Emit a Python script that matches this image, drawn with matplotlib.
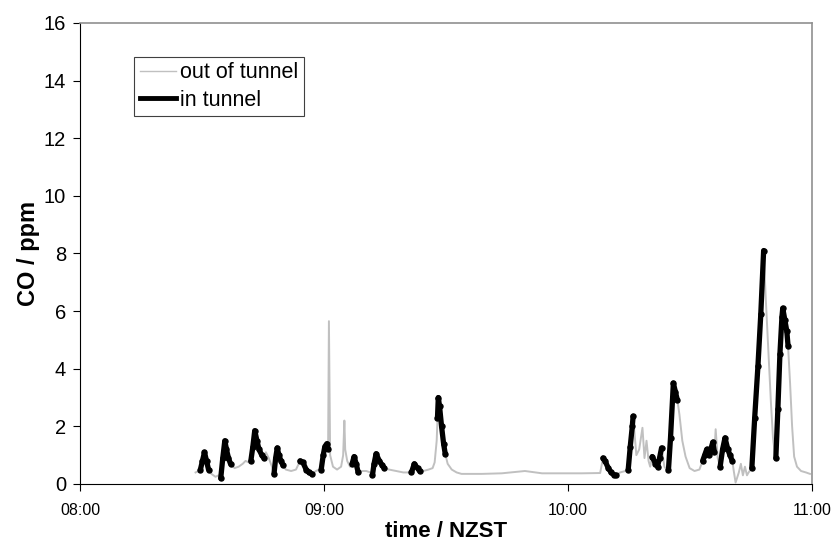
import numpy as np
import matplotlib.pyplot as plt

plt.rcParams['font.family'] = ['Liberation Sans', 'DejaVu Sans']

# CO trace, minutes after 08:00 (NZST) and ppm
minutes = [
    28.4, 29.1, 29.6, 30.1, 30.6, 31.1, 31.6, 32.3, 33.3, 34.1,
    34.6, 35.1, 35.6, 36.0, 36.5, 37.0, 38.0, 39.0, 40.0, 40.7, 41.5,
    42.0, 42.5, 42.96, 43.5, 44.0, 44.7, 45.2, 45.7, 46.4, 47.2,
    47.7, 48.1, 48.5, 48.9, 49.4, 49.9, 50.6, 51.9, 53.1,
    54.1, 54.8, 55.6, 56.3, 57.0, 58.0, 58.8,
    59.3, 59.8, 60.2, 60.7, 61.0, 61.2, 61.5, 62.2, 63.2, 64.2, 64.7, 65.0, 65.2, 65.7, 66.4,
    66.9, 67.4, 67.9, 68.4, 69.4, 70.4, 71.4,
    71.9, 72.3, 72.8, 73.6, 74.3, 74.8, 76.0, 77.8, 79.5, 81.0,
    81.5, 82.2, 83.0, 83.5, 84.4, 85.7, 86.7, 87.2, 87.7,
    87.9, 88.1, 88.4, 88.9, 89.4, 89.8, 90.4, 91.4, 92.6, 93.8,
    98.8, 103.7, 109.4, 113.6, 118.5, 123.5, 127.9,
    128.6, 129.1, 129.9, 130.6, 131.4, 131.9, 132.8, 134.1,
    134.8, 135.3, 135.8, 136.0, 136.8, 137.5, 138.3, 138.8, 139.3, 139.8, 140.2,
    140.7, 141.5, 142.0, 142.5, 143.0, 143.7, 144.2,
    144.7, 145.2, 145.7, 145.9, 146.4, 146.9, 147.4, 148.1, 148.9, 149.9, 151.1, 152.3,
    153.1, 153.6, 154.1, 154.6, 155.1, 155.6, 156.0, 156.3, 156.8,
    157.4, 158.0, 158.6, 159.3, 159.8, 160.4, 160.7, 161.2, 162.0, 162.5, 163.0, 163.5, 164.0, 164.4,
    165.2, 165.9, 166.7, 167.4, 168.1, 168.6, 169.3, 169.9, 170.4, 170.9,
    171.1, 171.6, 172.1, 172.6, 172.8, 173.3, 173.8, 174.1,
    174.6, 175.1, 175.6, 176.3, 177.3, 178.5, 179.5,
]
co = [
    0.40, 0.45, 0.5, 0.8, 1.1, 0.8, 0.5, 0.35, 0.25, 0.3,
    0.2, 0.9, 1.5, 1.2, 0.9, 0.7, 0.55, 0.6, 0.7, 0.8, 0.75,
    0.8, 1.3, 1.85, 1.5, 1.2, 1.0, 0.9, 1.1, 0.9, 0.6,
    0.35, 0.9, 1.25, 1.0, 0.8, 0.65, 0.5, 0.45, 0.5,
    0.8, 0.75, 0.5, 0.4, 0.35, 0.45, 0.5,
    0.5, 1.0, 1.3, 1.4, 1.2, 5.65, 1.0, 0.6, 0.5, 0.6, 1.0, 2.2, 1.2, 0.8, 0.6,
    0.7, 0.95, 0.7, 0.4, 0.45, 0.45, 0.4,
    0.3, 0.7, 1.05, 0.8, 0.65, 0.55, 0.5, 0.45, 0.4, 0.4,
    0.4, 0.7, 0.55, 0.45, 0.45, 0.5, 0.55, 0.75, 1.5,
    2.3, 3.0, 2.7, 2.0, 1.4, 1.05, 0.7, 0.5, 0.4, 0.35,
    0.35, 0.37, 0.45, 0.37, 0.37, 0.37, 0.38,
    0.9, 0.8, 0.55, 0.4, 0.3, 0.3, 0.4, 0.45,
    0.5, 1.3, 2.0, 2.35, 1.0, 1.2, 1.95, 0.9, 1.5, 0.8, 0.6,
    0.95, 0.7, 0.6, 0.9, 1.25, 0.6, 0.5,
    0.5, 1.6, 3.0, 3.5, 3.2, 2.9, 2.4, 1.5, 0.95, 0.55, 0.45, 0.5,
    0.8, 1.0, 1.2, 1.0, 1.2, 1.45, 1.1, 1.9, 0.9,
    0.6, 1.2, 1.6, 1.2, 1.0, 0.8, 0.5, 0.05, 0.4, 0.7, 0.3, 0.6, 0.3, 0.4,
    0.55, 2.3, 4.1, 5.9, 8.1, 6.5, 4.5, 2.8, 1.6, 1.0,
    0.9, 2.6, 4.5, 5.8, 6.1, 5.7, 5.3, 4.8,
    3.5, 2.0, 0.95, 0.6, 0.45, 0.4, 0.35,
]

# in-tunnel periods (start, end), minutes after 08:00
tunnel = [
    (29.6, 31.6), (34.6, 37.0), (42.0, 45.2), (47.7, 49.9), (54.1, 57.0),
    (59.3, 61.0), (66.9, 68.4), (71.9, 74.8), (81.5, 83.5), (87.9, 89.8),
    (128.6, 131.9), (134.8, 136.0), (140.7, 143.0), (144.7, 146.9),
    (153.1, 156.0), (157.4, 160.4), (165.2, 168.1), (171.1, 174.1),
]

tick_min = [0, 60, 120, 180]
tick_lab = ["08:00", "09:00", "10:00", "11:00"]

t = np.array(minutes)
y = np.array(co)
inside = np.zeros(len(t), dtype=bool)
for a, b in tunnel:
    inside |= (t >= a - 1e-6) & (t <= b + 1e-6)
y_in = np.where(inside, y, np.nan)

fig = plt.figure(figsize=(8.32, 5.46), dpi=100)
ax = fig.add_axes([0.0962, 0.1136, 0.8798, 0.8444])

ax.plot(t, y, color='#c0c0c0', lw=1.4)
ax.plot(t, y_in, color='black', lw=3.8, marker='o', ms=3.6,
        solid_capstyle='round', solid_joinstyle='round')

ax.set_xlim(0, 180)
ax.set_ylim(0, 16)
ax.set_yticks(np.arange(0, 17, 2))
ax.set_xticks(tick_min)
ax.set_xticklabels(tick_lab, fontsize=11.5)
ax.tick_params(axis='y', labelsize=14.5, direction='out', length=5, pad=5)
ax.tick_params(axis='x', direction='out', length=5, pad=9)

ax.set_xlabel('time / NZST', fontsize=16, fontweight='bold', labelpad=2)
ax.set_ylabel('CO / ppm', fontsize=17, fontweight='bold', labelpad=3)

for s in ['top', 'right']:
    ax.spines[s].set_color('#909090')
    ax.spines[s].set_linewidth(1.2)
for s in ['left', 'bottom']:
    ax.spines[s].set_color('black')

# legend handles
h1, = ax.plot([], [], color='#c0c0c0', lw=1)
h2, = ax.plot([], [], color='black', lw=3.5)
leg = ax.legend([h1, h2], ['out of tunnel', 'in tunnel'], loc='upper left',
                bbox_to_anchor=(0.074, 0.926), borderaxespad=0, fontsize=15.5,
                fancybox=False, framealpha=1, edgecolor='#404040',
                handlelength=1.7, handletextpad=0.2, borderpad=0.25,
                labelspacing=0.3)
leg.get_frame().set_linewidth(0.8)

fig.savefig('out.png', dpi=100)
